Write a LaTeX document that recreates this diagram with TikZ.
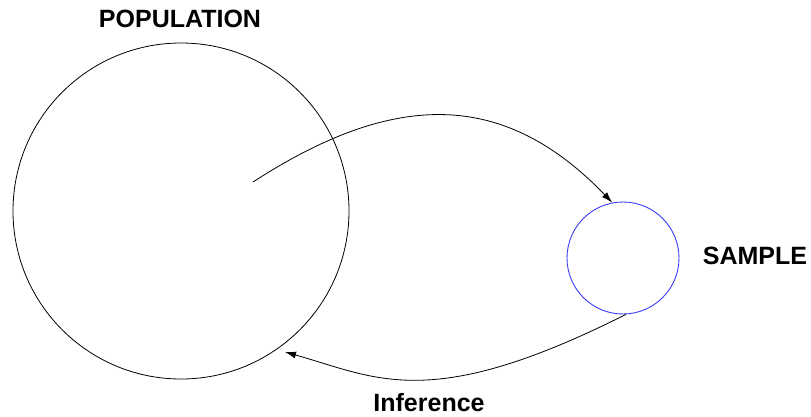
\documentclass[tikz,border=0pt]{standalone}
\usepackage{fontspec}
\setmainfont{Liberation Sans}
\usetikzlibrary{arrows.meta}
\definecolor{sampblue}{RGB}{60,60,245}
\tikzset{
  lbl/.style={font=\fontsize{25bp}{29bp}\selectfont\bfseries, inner sep=0pt},
  arr/.style={-{Latex[length=11bp,width=7bp]}, line width=0.8bp}
}

\begin{document}
\begin{tikzpicture}[x=1bp, y=-1bp]
  \useasboundingbox (0,0) rectangle (811,416);

    \node[circle, draw, line width=0.8bp, minimum size=336bp, inner sep=0pt] (pop) at (181,211) {};
    \node[circle, draw=sampblue, line width=0.9bp, minimum size=112bp, inner sep=0pt] (samp) at (623,258) {};
    \coordinate (src) at (253,182);

    \node[lbl] (poplbl) at (180,19) {POPULATION};
    \node[lbl] (samplbl) at (755,256) {SAMPLE};
    \node[lbl] (inflbl) at (429,403) {Inference};

    \draw[arr] (src) .. controls (395,90) and (504,90) .. (samp.101);
    \draw[arr] (samp.-87) .. controls (430,413) and (377,378) .. (285,352);

  \end{tikzpicture}
\end{document}
